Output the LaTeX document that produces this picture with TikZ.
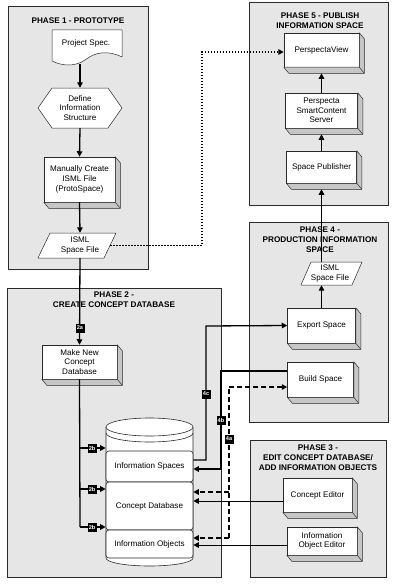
\documentclass[tikz,border=0pt]{standalone}
\usepackage{fontspec}
\setmainfont{Liberation Sans}
\usetikzlibrary{arrows.meta,calc}
\definecolor{phasefill}{HTML}{E6E6E6}
\definecolor{shadecol}{HTML}{C6C6C6}
\definecolor{edgecol}{HTML}{2A2A2A}
\newcommand\extrudebox[1]{%
  \filldraw[fill=shadecol,draw=edgecol,line width=0.5pt,line join=round]
    (#1.north east) -- ++(5,6) -- ([shift={(5,6)}]#1.south east) -- ([shift={(5,6)}]#1.south west)
    -- (#1.south west) -- (#1.south east) -- cycle;
  \draw[edgecol,line width=0.5pt] (#1.south east) -- ++(5,6);}
\begin{document}
\begin{tikzpicture}[x=1pt,y=-1pt,
  phase/.style={fill=phasefill,draw=edgecol,line width=0.6pt},
  ttl/.style={font=\fontsize{8.2}{9.8}\selectfont\bfseries,align=center,inner sep=0pt},
  txt/.style={font=\fontsize{8.1}{9.6}\selectfont,align=center,inner sep=0pt},
  front/.style={txt,draw=edgecol,fill=white,line width=0.5pt},
  shp/.style={fill=white,draw=edgecol,line width=0.5pt,line join=round},
  lab/.style={fill=black,text=white,font=\fontsize{5.6}{5.6}\selectfont\bfseries,inner sep=0pt,minimum width=9pt,minimum height=9pt},
  arr/.style={line width=1.3pt,-{Triangle[length=5.5pt,width=5.5pt]}},
  conn/.style={line width=1.3pt},
  thinarr/.style={line width=1pt,-{Triangle[length=5.5pt,width=5.5pt]}},
  darr/.style={line width=1.3pt,dash pattern=on 5pt off 3pt,-{Triangle[length=5.5pt,width=5.5pt]}},
  dline/.style={line width=1.3pt,dash pattern=on 5pt off 3pt},
  dotarr/.style={line width=1.4pt,dash pattern=on 1.4pt off 1.6pt,-{Triangle[length=5.5pt,width=5.5pt]}}
]
\useasboundingbox (0,0) rectangle (400,586);

% phase boxes
\draw[phase] (8,6) rectangle (148,269);
\draw[phase] (7,288) rectangle (221,577);
\draw[phase] (250,440) rectangle (386,577);
\draw[phase] (249,222) rectangle (388,422);
\draw[phase] (249,2) rectangle (388,205);

\node[ttl] (t1) at (78,21) {PHASE 1 - PROTOTYPE};
\node[ttl] (t2) at (114,300) {PHASE 2 -\\CREATE CONCEPT DATABASE};
\node[ttl] (t3) at (318,457.5) {PHASE 3 -\\EDIT CONCEPT DATABASE/\\ADD INFORMATION OBJECTS};
\node[ttl] (t4) at (320,239.5) {PHASE 4 -\\PRODUCTION INFORMATION\\SPACE};
\node[ttl] (t5) at (320,20.5) {PHASE 5 - PUBLISH\\INFORMATION SPACE};

% phase 1 shapes
\draw[shp] (52,30) -- (122,30) -- (122,57) .. controls (108,50) and (95,52) .. (85,60)
  .. controls (75,67) and (62,66) .. (52,61) -- cycle;
\node[txt] (spec) at (86,43) {Project Spec.};
\coordinate (specbot) at (80,64);

\draw[shp] (38,108) -- (52,88) -- (108,88) -- (122,108) -- (108,128) -- (52,128) -- cycle;
\node[txt,minimum height=40pt] (hex) at (80,108) {Define\\Information\\Structure};

\node[front,minimum width=71pt,minimum height=45pt] (man) at (79.5,179.5) {Manually Create\\ISML File\\(ProtoSpace)};
\extrudebox{man}

\draw[shp] (38,258) -- (50,233) -- (116,233) -- (104,258) -- cycle;
\node[txt,minimum width=60pt,minimum height=25pt] (isml1) at (80,245.5) {ISML\\Space File};

% phase 5 boxes
\node[front,minimum width=75pt,minimum height=34pt] (pv) at (321.5,50) {PerspectaView};
\extrudebox{pv}
\node[front,minimum width=72pt,minimum height=35pt] (srv) at (321.5,110.5) {Perspecta\\SmartContent\\Server};
\extrudebox{srv}
\node[front,minimum width=70pt,minimum height=32pt] (sp) at (321.5,167) {Space Publisher};
\extrudebox{sp}

% phase 4
\draw[shp] (301,285) -- (311,262) -- (362,262) -- (352,285) -- cycle;
\node[txt,minimum height=23pt] (isml4) at (330,273.5) {ISML\\Space File};
\node[front,minimum width=68pt,minimum height=35pt] (ex) at (321.5,325.5) {Export Space};
\extrudebox{ex}
\node[front,minimum width=66pt,minimum height=35pt] (bs) at (320.5,379.5) {Build Space};
\extrudebox{bs}

% phase 3
\node[front,minimum width=69pt,minimum height=34pt] (ce) at (317.5,495) {Concept Editor};
\extrudebox{ce}
\node[front,minimum width=70pt,minimum height=28pt] (ioe) at (322,541) {Information\\Object Editor};
\extrudebox{ioe}

% phase 2
\node[front,minimum width=75pt,minimum height=34pt] (mk) at (79.5,362) {Make New\\Concept\\Database};
\extrudebox{mk}

% cylinder
\filldraw[fill=white,draw=edgecol,line width=0.6pt] (106,427) -- (106,558)
  arc[start angle=180,end angle=0,x radius=43.5,y radius=8] -- (193,427);
\filldraw[fill=white,draw=edgecol,line width=0.6pt] (149.5,427) ellipse [x radius=43.5,y radius=9];
\draw[edgecol,line width=0.6pt] (106,433) arc[start angle=180,end angle=0,x radius=43.5,y radius=9];
\node[txt,draw=edgecol,fill=white,rounded corners=3pt,minimum width=87pt,minimum height=31pt,line width=0.6pt] (is) at (149.5,466.5) {Information Spaces};
\node[txt,draw=edgecol,fill=white,rounded corners=3pt,minimum width=87pt,minimum height=48pt,line width=0.6pt] (cd) at (149.5,506) {Concept Database};
\node[txt,draw=edgecol,fill=white,rounded corners=3pt,minimum width=87pt,minimum height=28pt,line width=0.6pt] (io) at (149.5,544) {Information Objects};

% phase 1 connectors
\draw[arr] (specbot) -- (hex.north);
\draw[arr] (hex.south) -- (man.north);
\draw[arr] (man.south) -- (isml1.north);
\draw[arr] (isml1.south) -- (mk.north);
\node[lab] (l2a) at (80,328) {2a};

% dotted to PerspectaView
\coordinate (dcorner) at (202,52);
\draw[dotarr] (isml1.east) -| (dcorner) -- ([yshift=-2pt]pv.west);

% phase 5 chain
\draw[arr] (srv.north) -- ([yshift=-6pt]pv.south);
\draw[arr] (sp.north) -- ([yshift=-6pt]srv.south);
\draw[arr] (sp.south |- isml4.north) -- ([yshift=-6pt]sp.south);
\draw[arr] (ex.north) -- (ex.north |- isml4.south);

% phase 2 branches
\coordinate (j1) at (80,448);
\coordinate (j2) at (80,489);
\coordinate (j3) at (80,527);
\draw[conn] (mk.south) -- (j3);
\draw[arr] (j1) -- (j1 -| is.west) node[lab,pos=0.47] (l2b1) {2b};
\draw[arr] (j2) -- (j2 -| cd.west) node[lab,pos=0.47] (l2b2) {2b};
\draw[arr] (j3) -- (j3 -| io.west) node[lab,pos=0.47] (l2b3) {2b};

% 4c
\coordinate (k4c) at (206,326);
\draw[arr] ([yshift=6.5pt]is.east) -| (k4c) -- (ex.west);
\node[lab] (l4c) at (206,394) {4c};
% 4b
\coordinate (k4b) at (221,371);
\draw[arr] ([yshift=8.5pt]bs.west) -- (k4b) |- ([yshift=-2.5pt]is.east);
\node[lab] (l4b) at (221,420) {4b};
% 4a
\coordinate (k4a) at (229,387);
\coordinate (k4ab) at (229,538);
\coordinate (k4am) at (229,492);
\draw[dline] (k4ab) -- (k4a);
\draw[darr] (k4a) -- ([yshift=-7.5pt]bs.west);
\draw[darr] (k4am) -- (k4am -| cd.east);
\draw[darr] (k4ab) -- (k4ab -| io.east);
\node[lab] (l4a) at (229,439) {4a};

% phase 3 connectors
\draw[thinarr] ([yshift=-6pt]ce.west) -- ([yshift=5pt]cd.east);
\draw[thinarr] ([yshift=-4pt]ioe.west) -- ([yshift=-1pt]io.east);
\end{tikzpicture}
\end{document}
